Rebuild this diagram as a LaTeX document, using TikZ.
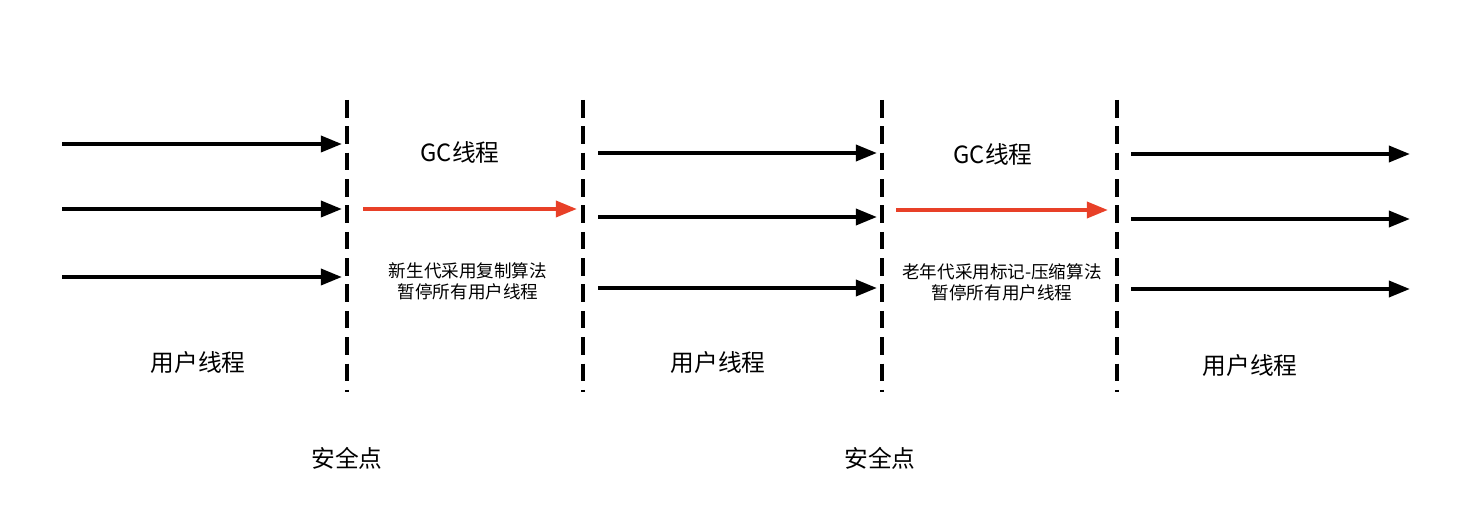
\documentclass[tikz,border=0pt]{standalone}
\usepackage{fontspec}
\setmainfont{Noto Sans CJK SC}
\usetikzlibrary{arrows.meta}
\definecolor{gcred}{RGB}{232,64,40}
\tikzset{
  flow/.style={line width=2.3pt,-{Triangle[length=12pt,width=9pt]}},
  gcflow/.style={flow,gcred},
  safe/.style={line width=2.4pt,dash pattern=on 10pt off 5pt},
  big/.style={font=\fontsize{13.5}{15}\selectfont},
  small/.style={font=\fontsize{10}{12}\selectfont}
}
\begin{document}
\begin{tikzpicture}[x=0.02cm,y=-0.02cm]
    \useasboundingbox (0,0) rectangle (1478,520);
    % safepoint lines
    \foreach \x in {347,583,882,1117} {
        \coordinate (t\x) at (\x,100);
        \coordinate (b\x) at (\x,392);
        \draw [safe] (t\x) -- (b\x);
    }
    % user threads
    \foreach \y [count=\i] in {144,209,277} {
        \coordinate (a\i) at (62,\y); \coordinate (e\i) at (342,\y);
        \draw [flow] (a\i) -- (e\i);
    }
    \foreach \y [count=\i] in {153,217,288} {
        \coordinate (c\i) at (598,\y); \coordinate (f\i) at (877,\y);
        \draw [flow] (c\i) -- (f\i);
    }
    \foreach \y [count=\i] in {154,219,289} {
        \coordinate (d\i) at (1131,\y); \coordinate (g\i) at (1410,\y);
        \draw [flow] (d\i) -- (g\i);
    }
    % gc threads
    \coordinate (ms) at (363,209); \coordinate (me) at (577,209);
    \draw [gcflow] (ms) -- (me);
    \coordinate (os) at (896,210); \coordinate (oe) at (1108,210);
    \draw [gcflow] (os) -- (oe);
    % labels
    \node[big] (gc1) at (460,152) {GC线程};
    \node[big] (gc2) at (993,154) {GC线程};
    \node[small,align=center] (minor) at (468,281) {新生代采用复制算法\\暂停所有用户线程};
    \node[small,align=center] (major) at (1002,282) {老年代采用标记-压缩算法\\暂停所有用户线程};
    \node[big] (u1) at (198,362) {用户线程};
    \node[big] (u2) at (718,362) {用户线程};
    \node[big] (u3) at (1250,365) {用户线程};
    \node[big] (sp1) at (347,458) {安全点};
    \node[big] (sp2) at (880,458) {安全点};
\end{tikzpicture}
\end{document}
